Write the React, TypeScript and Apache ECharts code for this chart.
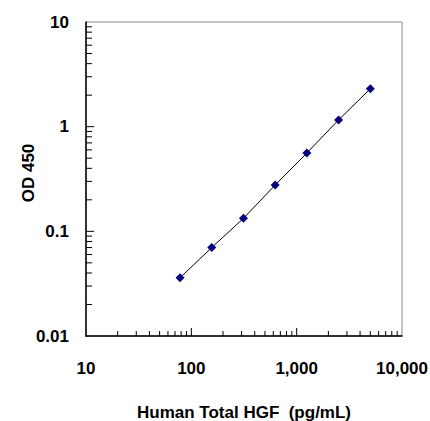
import React, { useEffect, useRef } from "react";
import * as echarts from "echarts";

const concentrations = [78.125, 156.25, 312.5, 625, 1250, 2500, 5000];
const odValues = [0.036, 0.07, 0.133, 0.277, 0.56, 1.16, 2.3];

const xMinorTicks = [20, 30, 40, 50, 60, 70, 80, 90, 200, 300, 400, 500, 600, 700, 800, 900, 2000, 3000, 4000, 5000, 6000, 7000, 8000, 9000];
const xMajorTicks = [100, 1000];
const yMinorTicks = [0.02, 0.03, 0.04, 0.05, 0.06, 0.07, 0.08, 0.09, 0.2, 0.3, 0.4, 0.5, 0.6, 0.7, 0.8, 0.9, 2, 3, 4, 5, 6, 7, 8, 9];
const yMajorTicks = [0.1, 1];

const X_TITLE = "Human Total HGF  (pg/mL)";
const Y_TITLE = "OD 450";

const FONT = "'Liberation Sans', Arial, sans-serif";

export default function App() {
  const ref = useRef<HTMLDivElement>(null);
  useEffect(() => {
    if (!ref.current) return;
    const chart = echarts.init(ref.current, undefined, { renderer: "svg" });

    const tickData: any[] = [];
    xMinorTicks.forEach((v) => tickData.push([v, 0.01, 0, 5]));
    xMajorTicks.forEach((v) => tickData.push([v, 0.01, 0, 8]));
    yMinorTicks.forEach((v) => tickData.push([10, v, 1, 6]));
    yMajorTicks.forEach((v) => tickData.push([10, v, 1, 8]));

    chart.setOption({
      animation: false,
      backgroundColor: "#ffffff",
      grid: {
        left: 86,
        right: 28,
        top: 22,
        bottom: 85,
        show: true,
        borderColor: "#888888",
        borderWidth: 1,
        containLabel: false,
        outerBoundsMode: "none",
      },
      xAxis: {
        type: "log",
        logBase: 10,
        min: 10,
        max: 10000,
        name: X_TITLE,
        nameLocation: "middle",
        nameGap: 68,
        nameMoveOverlap: false,
        nameTextStyle: { fontFamily: FONT, fontWeight: "bold", fontSize: 17, color: "#000" },
        axisLine: { show: true, lineStyle: { color: "#000", width: 1.5 } },
        axisTick: { show: false },
        splitLine: { show: false },
        axisLabel: {
          margin: 24,
          color: "#000",
          fontFamily: FONT,
          fontWeight: "bold",
          fontSize: 17,
          formatter: (v: number) => Math.round(v).toLocaleString("en-US"),
        },
      },
      yAxis: {
        type: "log",
        logBase: 10,
        min: 0.01,
        max: 10,
        name: Y_TITLE,
        nameLocation: "middle",
        nameRotate: 90,
        nameGap: 49,
        nameMoveOverlap: false,
        nameTextStyle: {
          fontFamily: FONT,
          fontWeight: "bold",
          fontSize: 17,
          color: "#000",
          padding: [0, 0, 0, 12],
        },
        axisLine: { show: true, lineStyle: { color: "#000", width: 1.5 } },
        axisTick: { show: false },
        splitLine: { show: false },
        axisLabel: {
          margin: 17,
          color: "#000",
          fontFamily: FONT,
          fontWeight: "bold",
          fontSize: 17,
          padding: [6, 0, 0, 0],
          formatter: (v: number) => String(Number(v.toPrecision(3))),
        },
      },
      series: [
        {
          type: "custom",
          silent: true,
          data: tickData,
          renderItem: (params: any, api: any) => {
            const p = api.coord([api.value(0), api.value(1)]);
            const dir = api.value(2);
            const len = api.value(3);
            const shape =
              dir === 0
                ? { x1: p[0], y1: p[1], x2: p[0], y2: p[1] - len }
                : { x1: p[0], y1: p[1], x2: p[0] + len, y2: p[1] };
            return {
              type: "line",
              shape,
              style: { stroke: "#000", lineWidth: 1 },
            };
          },
          z: 1,
        },
        {
          type: "line",
          data: concentrations.map((c, i) => [c, odValues[i]]),
          symbol: "diamond",
          symbolSize: 9,
          lineStyle: { color: "#000", width: 1 },
          itemStyle: { color: "#00007f" },
          z: 3,
        },
      ],
    });
    return () => chart.dispose();
  }, []);
  return <div ref={ref} style={{ position: "fixed", left: 0, top: 0, width: 430, height: 421 }} />;
}
